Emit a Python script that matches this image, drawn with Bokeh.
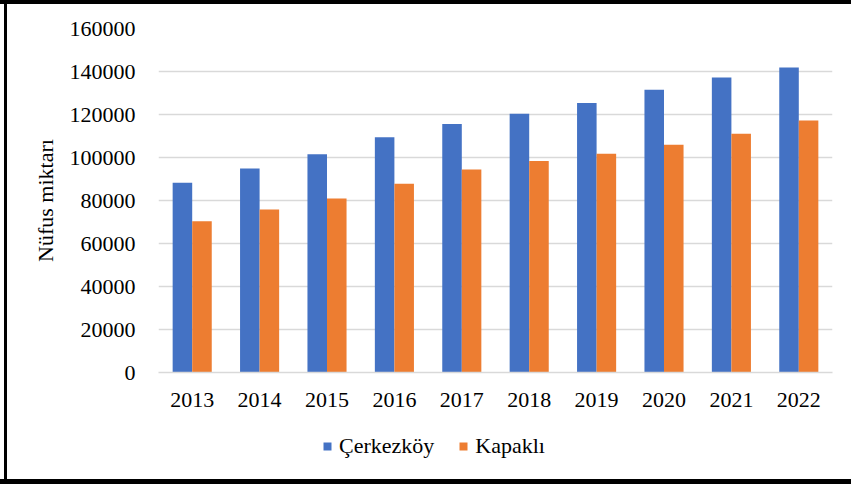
from bokeh.plotting import figure
from bokeh.layouts import column
from bokeh.models import FactorRange, Range1d, FixedTicker, NumeralTickFormatter, Legend, LegendItem, ColumnDataSource
from bokeh.transform import dodge
from bokeh.embed import file_html
from bokeh.resources import INLINE

years = ["2013", "2014", "2015", "2016", "2017", "2018", "2019", "2020", "2021", "2022"]
cerkezkoy = [88200, 94900, 101500, 109400, 115600, 120300, 125400, 131500, 137200, 141900]
kapakli = [70300, 75800, 80900, 87800, 94400, 98400, 101700, 105900, 111000, 117200]
y_ticks = [0, 20000, 40000, 60000, 80000, 100000, 120000, 140000, 160000]
series_names = ["Çerkezköy", "Kapaklı"]
series_colors = ["#4472C4", "#ED7D31"]

src = ColumnDataSource(dict(year=years, c=cerkezkoy, k=kapakli))

FONT = "Liberation Serif"

p = figure(x_range=FactorRange(factors=years, range_padding=0),
           y_range=Range1d(0, 160000),
           width=851, height=430, output_backend="svg", toolbar_location=None,
           min_border_left=158, min_border_right=19, min_border_top=28, min_border_bottom=58)
p.outline_line_color = None
p.background_fill_color = "white"
p.border_fill_alpha = 0

r1 = p.vbar(x=dodge("year", -0.145, range=p.x_range), top="c", width=0.29, source=src,
            fill_color=series_colors[0], line_color=None)
r2 = p.vbar(x=dodge("year", 0.145, range=p.x_range), top="k", width=0.29, source=src,
            fill_color=series_colors[1], line_color=None)

p.xgrid.grid_line_color = None
p.ygrid.grid_line_color = "#d9d9d9"
p.ygrid.grid_line_width = 1.5
p.ygrid.ticker = FixedTicker(ticks=y_ticks)

p.yaxis.ticker = FixedTicker(ticks=y_ticks)
p.yaxis.formatter = NumeralTickFormatter(format="0")
p.yaxis.axis_line_color = None
p.yaxis.major_tick_line_color = None
p.yaxis.minor_tick_line_color = None
p.yaxis.major_label_standoff = 17
p.yaxis.axis_label = "Nüfus miktarı"
p.yaxis.axis_label_standoff = 9
p.yaxis.axis_label_text_font = FONT
p.yaxis.axis_label_text_font_style = "normal"
p.yaxis.axis_label_text_font_size = "22px"
p.yaxis.axis_label_text_color = "black"

p.xaxis.axis_line_color = "#d9d9d9"
p.xaxis.axis_line_width = 1.5
p.xaxis.major_tick_line_color = None
p.xaxis.minor_tick_line_color = None
p.xaxis.major_label_standoff = 14

for ax in (p.xaxis[0], p.yaxis[0]):
    ax.major_label_text_font = FONT
    ax.major_label_text_font_size = "22px"
    ax.major_label_text_color = "black"

# legend strip below the chart (its zero-width bars lie outside its visible y range)
lg = figure(x_range=FactorRange(factors=years, range_padding=0), y_range=Range1d(-2e6, -1e6),
            width=851, height=54, output_backend="svg", toolbar_location=None,
            x_axis_location=None, y_axis_location=None,
            min_border=0, min_border_left=0, min_border_right=0, min_border_top=0, min_border_bottom=0)
lg.outline_line_color = None
lg.background_fill_alpha = 0
lg.border_fill_alpha = 0
lg.xgrid.visible = False
lg.ygrid.visible = False
lr1 = lg.vbar(x="year", top="c", width=0, source=src, fill_color=series_colors[0], line_color=None)
lr2 = lg.vbar(x="year", top="k", width=0, source=src, fill_color=series_colors[1], line_color=None)

legend = Legend(items=[LegendItem(label=series_names[0], renderers=[lr1]),
                       LegendItem(label=series_names[1], renderers=[lr2])],
                location=(164, 25), orientation="horizontal",
                label_text_font=FONT, label_text_font_size="22px", label_text_color="black",
                glyph_width=10, glyph_height=10, label_standoff=7, spacing=24,
                padding=0, margin=0, border_line_color=None, background_fill_alpha=0,
                label_height=20)
lg.add_layout(legend, "center")

layout = column(p, lg, spacing=0)
layout.styles = {"background": "white",
                 "box-shadow": "inset 0 4px 0 0 black, inset 0 -5px 0 0 black, inset 4px 0 0 0 white, inset 7px 0 0 0 black"}

open("out.html", "w").write(file_html(layout, INLINE))
